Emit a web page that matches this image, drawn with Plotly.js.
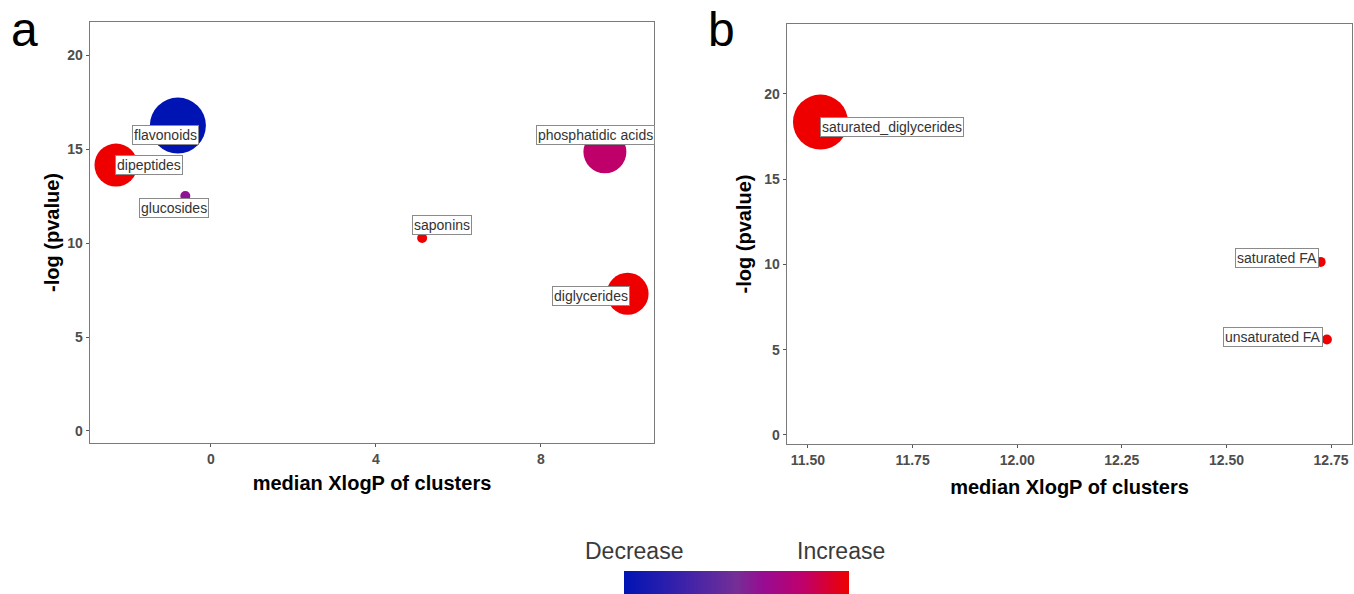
<!DOCTYPE html>
<html><head><meta charset="utf-8">
<script src="https://cdn.plot.ly/plotly-3.0.1.min.js"></script>
<style>html,body{margin:0;padding:0;background:#fff;}#chart{width:1354px;height:594px;}</style>
</head><body><div id="chart"></div>
<script>
// ---- data: panel a ----
const clustersA = ['flavonoids','dipeptides','glucosides','saponins','phosphatidic acids','diglycerides'];
const xlogpA = [-0.8, -2.3, -0.62, 5.12, 9.55, 10.1];
const pvalA = [16.25, 14.15, 12.5, 10.27, 14.85, 7.3];
const clusterSizeA = [56, 43, 10, 10, 43, 42];
const directionA = [0, 1, 0.6, 1, 0.8, 1];
// ---- data: panel b ----
const clustersB = ['saturated_diglycerides','saturated FA','unsaturated FA'];
const xlogpB = [11.53, 12.725, 12.74];
const pvalB = [18.35, 10.15, 5.6];
const clusterSizeB = [55, 10, 10];
const directionB = [1, 1, 1];
// ---- tick labels ----
const xTicksA = [0, 4, 8];
const yTicks = [0, 5, 10, 15, 20];
const xTicksB = [11.50, 11.75, 12.00, 12.25, 12.50, 12.75];
const legendLabels = ['Decrease', 'Increase'];

// styling (not data)
const colorscale = [[0,'#0014B4'],[0.3,'#4424A8'],[0.5,'#752E96'],[0.62,'#970C92'],[0.8,'#C0006A'],[1,'#EE0000']];
const labelOffsets = {
  'flavonoids':[-12,-9], 'dipeptides':[33,0], 'glucosides':[-11,-12], 'saponins':[20,13],
  'phosphatidic acids':[-9,17], 'diglycerides':[-37,-2],
  'saturated_diglycerides':[72,-5], 'saturated FA':[-44,4], 'unsaturated FA':[-54,2]
};
const FONT = 'Liberation Sans, Arial, sans-serif';

const traceA = {
  type:'scatter', mode:'markers', x:xlogpA, y:pvalA, text:clustersA, xaxis:'x', yaxis:'y',
  marker:{size:clusterSizeA, sizemode:'diameter', sizeref:1, color:directionA, cmin:0, cmax:1,
    colorscale:colorscale, line:{width:0}, opacity:1,
    showscale:true,
    colorbar:{orientation:'h', lenmode:'pixels', len:225, thickness:30, x:736/1354, xanchor:'center',
      y:23/594, yanchor:'top', xpad:0, ypad:0, outlinewidth:0, showticklabels:false, ticks:''}},
  hoverinfo:'text', showlegend:false
};
const traceB = {
  type:'scatter', mode:'markers', x:xlogpB, y:pvalB, text:clustersB, xaxis:'x2', yaxis:'y2',
  marker:{size:clusterSizeB, sizemode:'diameter', sizeref:1, color:directionB, cmin:0, cmax:1,
    colorscale:colorscale, line:{width:0}, opacity:1, showscale:false},
  hoverinfo:'text', showlegend:false
};

function labelAnns(names, xs, ys, xref, yref){
  return names.map((n,i)=>({
    x:xs[i], y:ys[i], xref:xref, yref:yref, text:n, showarrow:false,
    xshift:labelOffsets[n][0], yshift:labelOffsets[n][1],
    bgcolor:'#ffffff', bordercolor:'#8a8a8a', borderwidth:1, borderpad:1,
    font:{family:FONT, size:14, color:'#333333'}
  }));
}

const axisCommon = {
  showgrid:false, zeroline:false, showline:true, mirror:true, linecolor:'#7a7a7a', linewidth:1.3,
  ticks:'outside', ticklen:3, tickcolor:'#555', tickwidth:1,
  tickfont:{family:FONT, size:14, color:'#4d4d4d', weight:'bold'}
};
const titleFont = {family:FONT, size:20, color:'#000', weight:'bold'};

const layout = {
  width:1354, height:594, margin:{l:0,r:0,t:0,b:0, autoexpand:false},
  paper_bgcolor:'#fff', plot_bgcolor:'#fff',
  xaxis:Object.assign({}, axisCommon, {domain:[90/1354, 654/1354], range:[-2.93, 10.74], anchor:'y',
    tickvals:xTicksA, ticktext:xTicksA.map(String), automargin:false,
    title:{text:'median XlogP of clusters', font:titleFont, standoff:10}}),
  yaxis:Object.assign({}, axisCommon, {domain:[1-443/594, 1-22/594], range:[-0.64, 21.76], anchor:'x',
    tickvals:yTicks, ticktext:yTicks.map(String), automargin:false,
    title:{text:'-log (pvalue)', font:titleFont, standoff:2}}),
  xaxis2:Object.assign({}, axisCommon, {domain:[787/1354, 1352/1354], range:[11.45, 12.80], anchor:'y2',
    tickvals:xTicksB, ticktext:xTicksB.map(v=>v.toFixed(2)), automargin:false,
    title:{text:'median XlogP of clusters', font:titleFont, standoff:13}}),
  yaxis2:Object.assign({}, axisCommon, {domain:[1-444/594, 1-24/594], range:[-0.53, 24.1], anchor:'x2',
    tickvals:yTicks, ticktext:yTicks.map(String), automargin:false,
    title:{text:'-log (pvalue)', font:titleFont, standoff:7}}),
  annotations: [].concat(
    labelAnns(clustersA, xlogpA, pvalA, 'x', 'y'),
    labelAnns(clustersB, xlogpB, pvalB, 'x2', 'y2'),
    [
      {text:'a', x:24/1354, y:1-30/594, xref:'paper', yref:'paper', showarrow:false, xanchor:'center', yanchor:'middle',
        font:{family:FONT, size:48, color:'#000'}},
      {text:'b', x:721/1354, y:1-30/594, xref:'paper', yref:'paper', showarrow:false, xanchor:'center', yanchor:'middle',
        font:{family:FONT, size:48, color:'#000'}},
      {text:legendLabels[0], x:634/1354, y:1-551/594, xref:'paper', yref:'paper', showarrow:false, xanchor:'center', yanchor:'middle',
        font:{family:FONT, size:23, color:'#3a3a3a'}},
      {text:legendLabels[1], x:841/1354, y:1-551/594, xref:'paper', yref:'paper', showarrow:false, xanchor:'center', yanchor:'middle',
        font:{family:FONT, size:23, color:'#3a3a3a'}}
    ]
  )
};

Plotly.newPlot('chart', [traceA, traceB], layout, {displayModeBar:false, staticPlot:true});
</script>
</body></html>
